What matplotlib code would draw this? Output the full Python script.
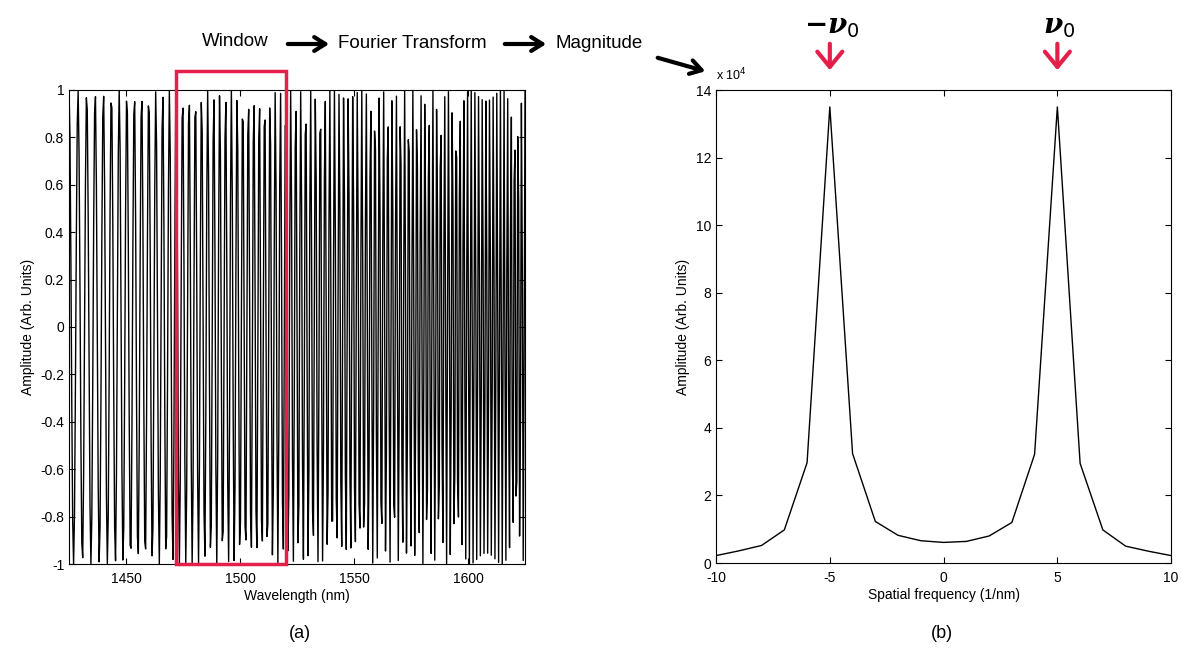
import numpy as np
import matplotlib.pyplot as plt
from matplotlib.patches import Rectangle, FancyArrowPatch

plt.rcParams['font.family'] = ['Liberation Sans', 'DejaVu Sans']
plt.rcParams['mathtext.fontset'] = 'dejavuserif'
plt.rcParams['axes.unicode_minus'] = False

# interferogram: sampled fringe signal with a slow chirp
wl_start, wl_stop, wl_step = 1425.0, 1625.0, 0.4
fringe_freq_start = 0.25   # cycles per nm at 1425 nm
fringe_freq_stop = 0.66    # cycles per nm at 1625 nm
window_lo, window_hi = 1472, 1520

# magnitude of the windowed spectrum (x 10^4)
freqs = [-10, -9, -8, -7, -6, -5, -4, -3, -2, -1, 0, 1, 2, 3, 4, 5, 6, 7, 8, 9, 10]
mags = [0.22, 0.36, 0.52, 0.98, 2.97, 13.5, 3.24, 1.23, 0.82, 0.66, 0.61,
        0.64, 0.80, 1.20, 3.22, 13.5, 2.95, 0.98, 0.50, 0.35, 0.22]

wl = np.arange(wl_start, wl_stop + wl_step / 2, wl_step)
rate = (fringe_freq_stop - fringe_freq_start) / (wl_stop - wl_start)
phase = 2 * np.pi * (fringe_freq_start * (wl - wl_start) + 0.5 * rate * (wl - wl_start) ** 2)
signal = np.cos(phase)

fig = plt.figure(figsize=(11.82, 6.54), dpi=100)
ax1 = fig.add_axes([0.0584, 0.1376, 0.3858, 0.7248])
ax2 = fig.add_axes([0.6058, 0.1391, 0.3850, 0.7232])

# (a) fringe signal
ax1.plot(wl, signal, color='black', lw=1.0)
ax1.set_xlim(1425, 1625)
ax1.set_ylim(-1, 1)
ax1.set_xticks([1450, 1500, 1550, 1600])
ax1.set_yticks(np.round(np.arange(-1, 1.01, 0.2), 1))
ax1.set_yticklabels(['-1', '-0.8', '-0.6', '-0.4', '-0.2', '0', '0.2', '0.4', '0.6', '0.8', '1'])
ax1.set_xlabel('Wavelength (nm)', fontsize=10, labelpad=2)
ax1.set_ylabel('Amplitude (Arb. Units)', fontsize=10, labelpad=4)
ax1.add_patch(Rectangle((window_lo, -1.0), window_hi - window_lo, 2.08,
                        fill=False, edgecolor='#e3204b', lw=2.5, clip_on=False, zorder=5))

# (b) magnitude spectrum
ax2.plot(freqs, mags, color='black', lw=1.0)
ax2.set_xlim(-10, 10)
ax2.set_ylim(0, 14)
ax2.set_xticks([-10, -5, 0, 5, 10])
ax2.set_yticks(range(0, 15, 2))
ax2.set_xlabel('Spatial frequency (1/nm)', fontsize=10, labelpad=2)
ax2.set_ylabel('Amplitude (Arb. Units)', fontsize=10, labelpad=4)
ax2.text(0.0, 1.015, r'x 10$^{4}$', transform=ax2.transAxes, fontsize=9,
         ha='left', va='bottom', math_fontfamily='dejavusans')

for ax in (ax1, ax2):
    ax.tick_params(direction='in', labelsize=10, length=4, top=True, right=True)
    ax.tick_params(axis='x', pad=6)
    for s in ax.spines.values():
        s.set_linewidth(0.8)

fig.text(300 / 1182, 1 - 633 / 654, '(a)', fontsize=13, ha='center', va='center')
fig.text(942 / 1182, 1 - 633 / 654, '(b)', fontsize=13, ha='center', va='center')

# processing chain along the top
def fx(px):
    return px / 1182

def fy(py):
    return 1 - py / 654

fig.text(fx(235), fy(42), 'Window', fontsize=13.5, ha='center', va='center')
fig.text(fx(412), fy(43), 'Fourier Transform', fontsize=13.5, ha='center', va='center')
fig.text(fx(599), fy(43), 'Magnitude', fontsize=13.5, ha='center', va='center')
for (x0, y0, x1, y1) in [(285, 44, 332, 44), (502, 44, 549, 44), (655, 57, 708, 72)]:
    fig.add_artist(FancyArrowPatch((fx(x0), fy(y0)), (fx(x1), fy(y1)), transform=fig.transFigure,
                                   arrowstyle='->,head_length=8,head_width=5', color='black', lw=3))

# peak markers
for xv, lab in [(-5, r'$\mathbf{-}\boldsymbol{\nu}_{\mathsf{0}}$'), (5, r'$\boldsymbol{\nu}_{\mathsf{0}}$')]:
    xp = ax2.transData.transform((xv, 0))[0] / fig.bbox.width * 1182
    fig.text(fx(xp + 2), fy(27), lab, fontsize=20, ha='center', va='center')
    fig.add_artist(FancyArrowPatch((fx(xp), fy(41)), (fx(xp), fy(73)), transform=fig.transFigure,
                                   arrowstyle='->,head_length=11,head_width=9', color='#e3204b', lw=3))

fig.savefig('out.png', dpi=100)
